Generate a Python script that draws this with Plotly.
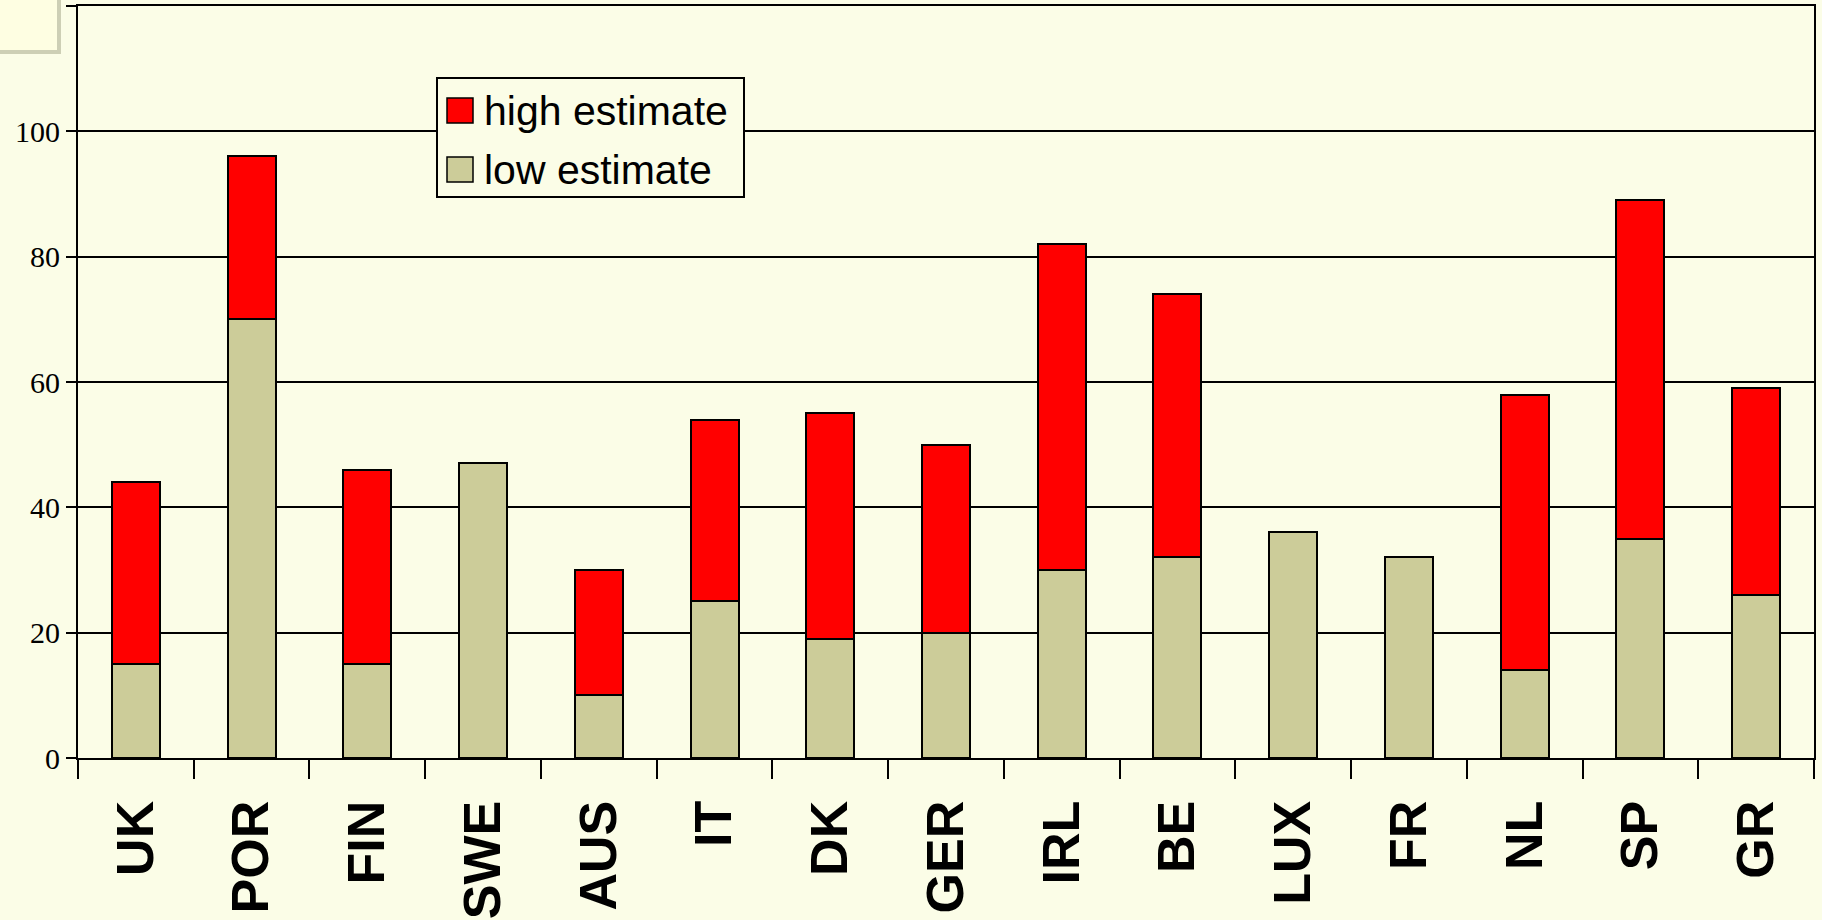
import plotly.graph_objects as go

countries = ["UK", "POR", "FIN", "SWE", "AUS", "IT", "DK", "GER",
             "IRL", "BE", "LUX", "FR", "NL", "SP", "GR"]
low_estimate = [15, 70, 15, 47, 10, 25, 19, 20, 30, 32, 36, 32, 14, 35, 26]
high_extra = [29, 26, 31, 0, 20, 29, 36, 30, 52, 42, 0, 0, 44, 54, 33]
y_ticks = [0, 20, 40, 60, 80, 100, 120]
y_ticktext = ["0", "20", "40", "60", "80", "100", ""]
legend_labels = ["high estimate", "low estimate"]

BG = "#FBFDE7"
LOW_COLOR = "#CCCC99"
HIGH_COLOR = "#FF0000"
W, H = 1822, 920
ML, MR, MT, MB = 78, 8, 6, 162

fig = go.Figure()
fig.add_trace(go.Bar(
    x=countries, y=low_estimate, name=legend_labels[1],
    marker=dict(color=LOW_COLOR, line=dict(color="black", width=2)),
))
fig.add_trace(go.Bar(
    x=countries, y=high_extra, name=legend_labels[0],
    marker=dict(color=HIGH_COLOR, line=dict(color="black", width=2)),
))

pw = W - ML - MR
ph = H - MT - MB


def px_x(p):
    return (p - ML) / pw


def px_y(p):
    return (H - MB - p) / ph


shapes = []
# corner note box with drop shadow
shapes.append(dict(type="rect", xref="paper", yref="paper",
                   x0=px_x(-5), x1=px_x(61), y0=px_y(54), y1=px_y(-5),
                   fillcolor="rgba(120,120,90,0.35)", line=dict(width=0), layer="below"))
shapes.append(dict(type="rect", xref="paper", yref="paper",
                   x0=px_x(-5), x1=px_x(57), y0=px_y(50), y1=px_y(-5),
                   fillcolor="#FEFEE2", line=dict(width=0), layer="below"))

# legend box with large swatches
shapes.append(dict(type="rect", xref="paper", yref="paper",
                   x0=px_x(437), x1=px_x(744), y0=px_y(197), y1=px_y(78),
                   fillcolor=BG, line=dict(color="black", width=2), layer="above"))
annotations = []
for label, color, top in [(legend_labels[0], HIGH_COLOR, 98),
                          (legend_labels[1], LOW_COLOR, 157)]:
    shapes.append(dict(type="rect", xref="paper", yref="paper",
                       x0=px_x(447), x1=px_x(473), y0=px_y(top + 25), y1=px_y(top),
                       fillcolor=color, line=dict(color="black", width=1.5), layer="above"))
    annotations.append(dict(xref="paper", yref="paper", x=px_x(482), y=px_y(top + 13),
                            xanchor="left", yanchor="middle", showarrow=False,
                            text=label,
                            font=dict(family="Liberation Sans, Arial, sans-serif",
                                      size=41, color="black")))

fig.update_layout(
    width=W, height=H,
    barmode="stack", bargap=0.585,
    paper_bgcolor=BG, plot_bgcolor=BG,
    margin=dict(l=ML, r=MR, t=MT, b=MB, autoexpand=False),
    showlegend=False,
    shapes=shapes,
    annotations=annotations,
    xaxis=dict(
        type="category", range=[-0.5, 14.5], automargin=False,
        tickson="boundaries", ticks="outside", ticklen=19, tickwidth=2, tickcolor="black",
        tickangle=-90, showline=True, linecolor="black", linewidth=2, mirror=True,
        showgrid=False,
        tickfont=dict(family="Liberation Sans, Arial, sans-serif", size=52,
                      color="black", weight="bold"),
        ticklabelstandoff=20,
    ),
    yaxis=dict(
        range=[0, 120], tickvals=y_ticks, ticktext=y_ticktext, automargin=False,
        ticks="outside", ticklen=10, tickwidth=2, tickcolor="black",
        showline=True, linecolor="black", linewidth=2, mirror=True,
        showgrid=True, gridcolor="black", gridwidth=1.5,
        zeroline=False,
        tickfont=dict(family="Liberation Serif, Times New Roman, serif", size=30,
                      color="black"),
    ),
)

fig.write_html("out.html")
